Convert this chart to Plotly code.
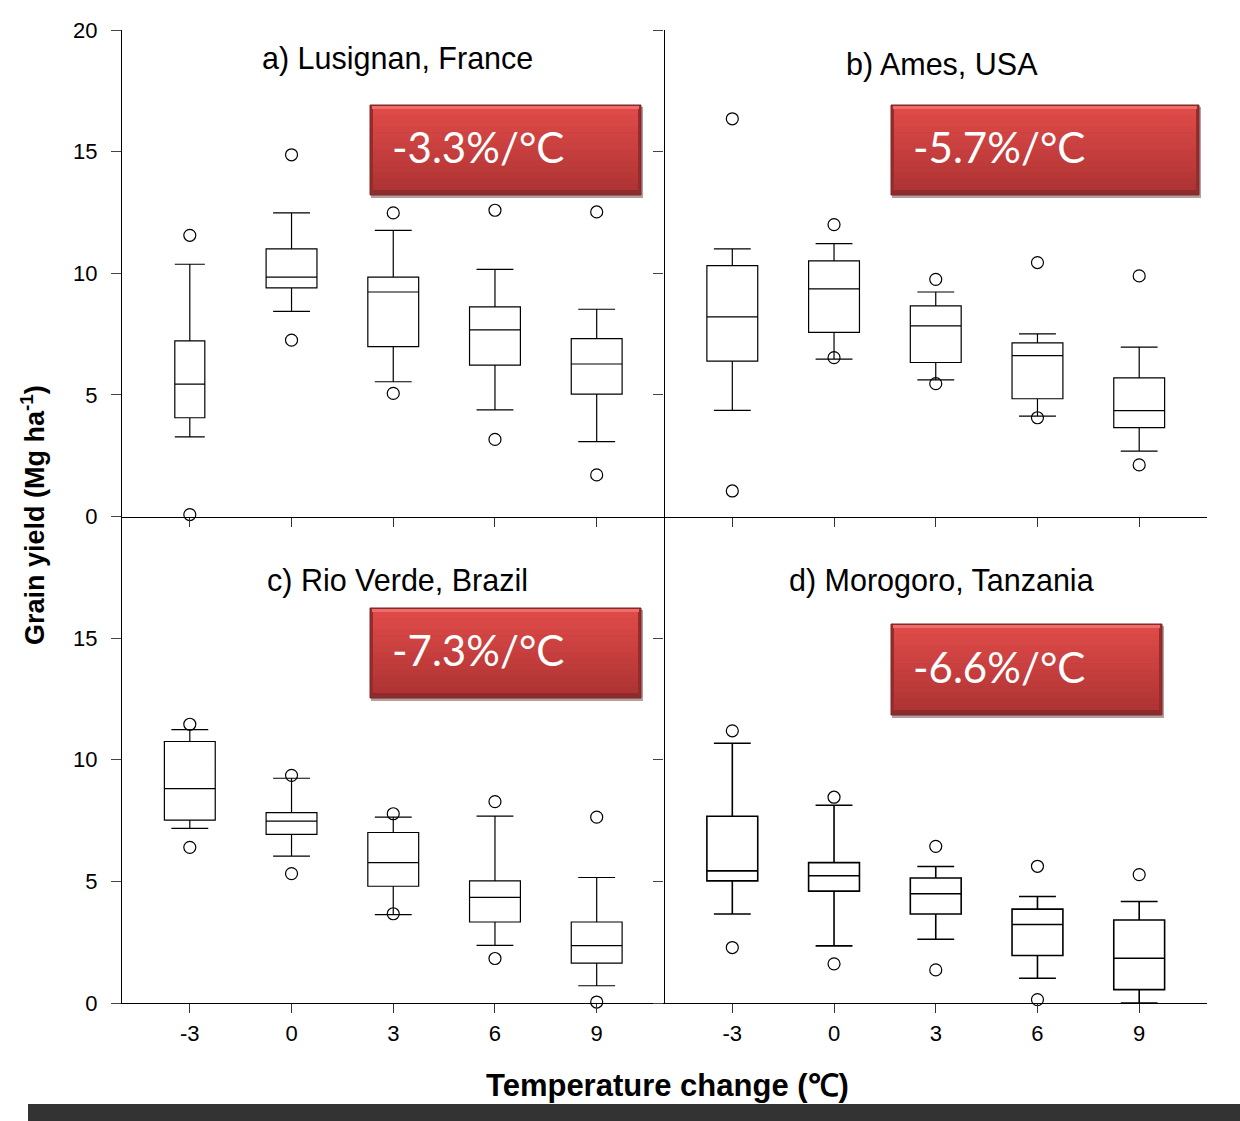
import plotly.graph_objects as go

# ---------------- data ----------------
temps = [-3, 0, 3, 6, 9]
panel_titles = ["a) Lusignan, France", "b) Ames, USA", "c) Rio Verde, Brazil", "d) Morogoro, Tanzania"]
slopes = ["-3.3%/°C", "-5.7%/°C", "-7.3%/°C", "-6.6%/°C"]

lusignan_q1 = [4.06, 9.40, 6.98, 6.22, 5.03]
lusignan_med = [5.44, 9.84, 9.23, 7.67, 6.27]
lusignan_q3 = [7.22, 11.00, 9.84, 8.62, 7.31]
lusignan_lo = [3.27, 8.43, 5.54, 4.38, 3.08]
lusignan_hi = [10.37, 12.48, 11.76, 10.16, 8.52]
lusignan_out_hi = [11.56, 14.87, 12.48, 12.59, 12.52]
lusignan_out_lo = [0.08, 7.25, 5.06, 3.17, 1.71]

ames_q1 = [6.39, 7.57, 6.33, 4.84, 3.65]
ames_med = [8.21, 9.36, 7.84, 6.61, 4.35]
ames_q3 = [10.31, 10.51, 8.66, 7.14, 5.70]
ames_lo = [4.36, 6.47, 5.62, 4.13, 2.69]
ames_hi = [11.00, 11.22, 9.23, 7.51, 6.96]
ames_out_hi = [16.35, 12.00, 9.75, 10.44, 9.89]
ames_out_lo = [1.05, 6.53, 5.46, 4.06, 2.12]

rioverde_q1 = [7.52, 6.93, 4.80, 3.33, 1.64]
rioverde_med = [8.81, 7.48, 5.77, 4.34, 2.36]
rioverde_q3 = [10.75, 7.83, 7.01, 5.02, 3.33]
rioverde_lo = [7.18, 6.04, 3.63, 2.37, 0.71]
rioverde_hi = [11.24, 9.24, 7.64, 7.68, 5.16]
rioverde_out_hi = [11.46, 9.36, 7.78, 8.28, 7.64]
rioverde_out_lo = [6.40, 5.32, 3.67, 1.83, 0.04]

morogoro_q1 = [5.02, 4.60, 3.66, 1.95, 0.55]
morogoro_med = [5.43, 5.23, 4.49, 3.23, 1.84]
morogoro_q3 = [7.68, 5.77, 5.14, 3.86, 3.41]
morogoro_lo = [3.66, 2.35, 2.62, 1.02, 0.00]
morogoro_hi = [10.68, 8.13, 5.61, 4.38, 4.17]
morogoro_out_hi = [11.19, 8.46, 6.44, 5.62, 5.28]
morogoro_out_lo = [2.28, 1.61, 1.36, 0.14, None]

panels = [
    (lusignan_q1, lusignan_med, lusignan_q3, lusignan_lo, lusignan_hi, lusignan_out_hi, lusignan_out_lo),
    (ames_q1, ames_med, ames_q3, ames_lo, ames_hi, ames_out_hi, ames_out_lo),
    (rioverde_q1, rioverde_med, rioverde_q3, rioverde_lo, rioverde_hi, rioverde_out_hi, rioverde_out_lo),
    (morogoro_q1, morogoro_med, morogoro_q3, morogoro_lo, morogoro_hi, morogoro_out_hi, morogoro_out_lo),
]

# ---------------- layout geometry ----------------
W, H = 1240, 1121
ML, MR, MT, MB = 122, 33, 30, 118
PW = W - ML - MR
PH = H - MT - MB


def px(xp):
    return (xp - ML) / PW


def py(yp):
    return (H - MB - yp) / PH


FONT = "Liberation Sans, Arial, sans-serif"
axis_suffix = ["", "2", "3", "4"]
box_lw = [1.2, 1.2, 1.2, 1.6]

fig = go.Figure()

for p, (q1, med, q3, lo, hi, oh, ol) in enumerate(panels):
    xa = "x" + axis_suffix[p]
    ya = "y" + axis_suffix[p]
    for i, t in enumerate(temps):
        narrow = (p == 0 and i == 0)
        fig.add_trace(go.Box(
            x=[t], q1=[q1[i]], median=[med[i]], q3=[q3[i]],
            lowerfence=[lo[i]], upperfence=[hi[i]],
            width=0.885 if narrow else 1.5,
            whiskerwidth=1.0 if narrow else 0.725,
            line=dict(color="black", width=box_lw[p]),
            fillcolor="rgba(255,255,255,0)",
            boxpoints=False, showlegend=False,
            xaxis=xa, yaxis=ya, hoverinfo="skip",
        ))
    ox, oy = [], []
    for i, t in enumerate(temps):
        for v in (oh[i], ol[i]):
            if v is not None:
                ox.append(t)
                oy.append(v)
    fig.add_trace(go.Scatter(
        x=ox, y=oy, mode="markers", showlegend=False, hoverinfo="skip",
        marker=dict(symbol="circle-open", size=12, color="black", line=dict(width=1.2)),
        xaxis=xa, yaxis=ya, cliponaxis=False,
    ))

common_x = dict(range=[-5, 11], tickvals=temps, ticktext=[str(t) for t in temps],
                ticks="outside", ticklen=9, tickcolor="#333", tickwidth=1.2,
                showline=True, linecolor="black", linewidth=1.3,
                showgrid=False, zeroline=False,
                tickfont=dict(family=FONT, size=22, color="black"),
                ticklabelstandoff=1)
common_y = dict(range=[0, 20], ticks="outside", ticklen=10, tickcolor="#444", tickwidth=1.2,
                showline=True, linecolor="black", linewidth=1.3,
                showgrid=False, zeroline=False,
                tickfont=dict(family=FONT, size=22, color="black"),
                ticklabelstandoff=9)

fig.update_layout(
    width=W, height=H,
    margin=dict(l=ML, r=MR, t=MT, b=MB),
    paper_bgcolor="white", plot_bgcolor="white",
    boxmode="overlay",
    xaxis=dict(domain=[0, 0.5], anchor="y", showticklabels=False, **common_x),
    yaxis=dict(domain=[0.5, 1], anchor="x", tickvals=[0, 5, 10, 15, 20], **common_y),
    xaxis2=dict(domain=[0.5, 1], anchor="y2", showticklabels=False, **common_x),
    yaxis2=dict(domain=[0.5, 1], anchor="x2", tickvals=[5, 10, 15, 20], showticklabels=False, **common_y),
    xaxis3=dict(domain=[0, 0.5], anchor="y3", showticklabels=True, **common_x),
    yaxis3=dict(domain=[0, 0.5], anchor="x3", tickvals=[0, 5, 10, 15], **common_y),
    xaxis4=dict(domain=[0.5, 1], anchor="y4", showticklabels=True, **common_x),
    yaxis4=dict(domain=[0, 0.5], anchor="x4", tickvals=[0, 5, 10, 15], showticklabels=False, **common_y),
)

annotations = []
shapes = []

# panel titles
title_pos = [(397, 58), (942, 64), (397, 580), (942, 580)]
for (tx, ty), txt in zip(title_pos, panel_titles):
    annotations.append(dict(text=txt, x=px(tx), y=py(ty), xref="paper", yref="paper",
                            showarrow=False, xanchor="center", yanchor="middle",
                            font=dict(family=FONT, size=30.5, color="black")))

# red slope boxes
box_pos = [(370, 105, 641, 195), (891, 105, 1199, 195), (370, 608, 641, 698), (891, 624, 1162, 715)]


def lerp(c0, c1, f):
    return tuple(int(round(a + (b - a) * f)) for a, b in zip(c0, c1))


for (x0, y0, x1, y1), txt in zip(box_pos, slopes):
    # shadow
    shapes.append(dict(type="rect", xref="paper", yref="paper",
                       x0=px(x0 + 1), x1=px(x1 + 2), y0=py(y0 + 2), y1=py(y1 + 3),
                       fillcolor="rgba(90,40,40,0.45)", line=dict(width=0)))
    # base
    shapes.append(dict(type="rect", xref="paper", yref="paper",
                       x0=px(x0), x1=px(x1), y0=py(y0), y1=py(y1),
                       fillcolor="rgb(150,44,44)", line=dict(width=1, color="rgb(125,38,38)")))
    # gradient body
    top, bot = y0 + 4, y1 - 5
    n = 14
    c_top, c_bot = (221, 74, 72), (176, 52, 52)
    for k in range(n):
        ya0 = top + (bot - top) * k / n
        ya1 = top + (bot - top) * (k + 1) / n
        c = lerp(c_top, c_bot, k / (n - 1))
        shapes.append(dict(type="rect", xref="paper", yref="paper",
                           x0=px(x0 + 3), x1=px(x1 - 3), y0=py(ya0), y1=py(ya1 + 0.6),
                           fillcolor="rgb(%d,%d,%d)" % c, line=dict(width=0)))
    # top highlight
    shapes.append(dict(type="rect", xref="paper", yref="paper",
                       x0=px(x0 + 2), x1=px(x1 - 2), y0=py(y0 + 1), y1=py(y0 + 4),
                       fillcolor="rgb(238,108,106)", line=dict(width=0)))
    # bottom dark band
    shapes.append(dict(type="rect", xref="paper", yref="paper",
                       x0=px(x0 + 2), x1=px(x1 - 2), y0=py(y1 - 5), y1=py(y1 - 1),
                       fillcolor="rgb(140,44,44)", line=dict(width=0)))
    annotations.append(dict(text=txt, x=px(x0 + 20), y=py((y0 + y1) / 2 - 3), xref="paper", yref="paper",
                            showarrow=False, xanchor="left", yanchor="middle",
                            font=dict(family="Lato, Open Sans, sans-serif", size=42, color="white")))

# axis titles
annotations.append(dict(text="<b>Grain yield (Mg ha<sup>-1</sup>)</b>", x=px(33), y=py(515),
                        xref="paper", yref="paper", showarrow=False, textangle=-90,
                        xanchor="center", yanchor="middle",
                        font=dict(family=FONT, size=27, color="black")))
annotations.append(dict(text="<b>Temperature change (℃)</b>", x=px(667), y=py(1085),
                        xref="paper", yref="paper", showarrow=False,
                        xanchor="center", yanchor="middle",
                        font=dict(family=FONT, size=31, color="black")))

# dark footer bar
shapes.append(dict(type="rect", xref="paper", yref="paper",
                   x0=px(28), x1=px(1240), y0=py(1121), y1=py(1104),
                   fillcolor="#333333", line=dict(width=0)))

fig.update_layout(annotations=annotations, shapes=shapes)
fig.write_html("out.html")
